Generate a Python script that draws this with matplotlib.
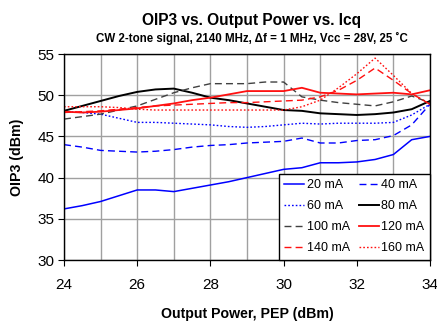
import matplotlib
matplotlib.use('Agg')
import matplotlib.pyplot as plt

plt.rcParams['font.family'] = ['Liberation Sans', 'DejaVu Sans']

pout = [24, 24.5, 25, 25.5, 26, 26.5, 27, 27.5, 28, 28.5, 29,
        29.5, 30, 30.5, 31, 31.5, 32, 32.5, 33, 33.5, 34]

oip3_20 = [36.2, 36.6, 37.1, 37.8, 38.5, 38.5, 38.3, 38.7, 39.1, 39.5, 40.0,
           40.5, 41.0, 41.2, 41.8, 41.8, 41.9, 42.2, 42.8, 44.6, 45.0]
oip3_40 = [44.0, 43.7, 43.3, 43.2, 43.1, 43.2, 43.4, 43.7, 43.9, 44.0, 44.2,
           44.3, 44.4, 44.8, 44.2, 44.2, 44.5, 44.6, 45.1, 46.4, 48.9]
oip3_60 = [48.0, 47.9, 47.7, 47.2, 46.7, 46.7, 46.6, 46.5, 46.4, 46.2, 46.1,
           46.2, 46.4, 46.6, 46.5, 46.6, 46.6, 46.6, 46.7, 47.6, 48.9]
oip3_80 = [48.1, 48.7, 49.3, 49.9, 50.4, 50.7, 50.8, 50.3, 49.7, 49.4, 49.0,
           48.6, 48.2, 48.1, 47.8, 47.7, 47.6, 47.7, 47.9, 48.3, 49.3]
oip3_100 = [47.1, 47.4, 47.7, 48.2, 48.7, 49.5, 50.3, 50.9, 51.4, 51.4, 51.4,
            51.6, 51.6, 49.8, 49.4, 49.1, 48.9, 48.7, 49.2, 49.9, 49.1]
oip3_120 = [48.0, 47.9, 48.0, 48.2, 48.4, 48.7, 49.0, 49.4, 49.7, 50.1, 50.5,
            50.5, 50.5, 50.9, 50.3, 50.2, 50.1, 50.2, 50.3, 50.1, 50.6]
oip3_140 = [47.9, 48.0, 48.1, 48.3, 48.5, 48.7, 48.8, 48.9, 49.0, 49.1, 49.1,
            49.2, 49.3, 49.4, 49.8, 50.6, 51.8, 53.3, 51.8, 50.2, 48.9]
oip3_160 = [48.6, 48.6, 48.6, 48.5, 48.3, 48.2, 48.2, 48.2, 48.2, 48.2, 48.2,
            48.2, 48.2, 48.6, 49.4, 50.9, 52.6, 54.5, 52.4, 50.2, 48.9]

fig = plt.figure(figsize=(4.37, 3.22), dpi=100)
ax = fig.add_axes([64 / 437, 1 - 260 / 322, 366 / 437, 206 / 322])

dash = (0, (5, 3))
dot = (0, (1.2, 1.5))
lines = {}
lines['20 mA'], = ax.plot(pout, oip3_20, color='#0000FF', lw=1.1, ls='-')
lines['40 mA'], = ax.plot(pout, oip3_40, color='#0000FF', lw=1.0, ls=dash)
lines['60 mA'], = ax.plot(pout, oip3_60, color='#0000FF', lw=1.0, ls=dot)
lines['80 mA'], = ax.plot(pout, oip3_80, color='#000000', lw=1.4, ls='-')
lines['100 mA'], = ax.plot(pout, oip3_100, color='#404040', lw=1.0, ls=dash)
lines['120 mA'], = ax.plot(pout, oip3_120, color='#FF1010', lw=1.3, ls='-')
lines['140 mA'], = ax.plot(pout, oip3_140, color='#FF1010', lw=1.0, ls=dash)
lines['160 mA'], = ax.plot(pout, oip3_160, color='#FF1010', lw=1.0, ls=dot)

ax.set_xlim(24, 34)
ax.set_ylim(30, 55)
ax.set_xticks(range(24, 35, 2))
ax.set_xticks(range(25, 34, 2), minor=True)
ax.set_yticks(range(30, 56, 5))
ax.grid(True, which='both', axis='x', color='#A0A0A0', lw=1.0)
ax.grid(True, which='major', axis='y', color='#A0A0A0', lw=1.0)
ax.set_axisbelow(True)
ax.tick_params(axis='both', which='major', labelsize=11, direction='out', length=4)
ax.tick_params(axis='x', which='major', pad=9)
ax.tick_params(axis='y', which='major', pad=3)
ax.tick_params(axis='x', which='minor', length=0)
for s in ax.spines.values():
    s.set_linewidth(1.0)

ax.set_xlabel('Output Power, PEP (dBm)', fontsize=10.2, fontweight='bold')
ax.set_ylabel('OIP3 (dBm)', fontsize=10.2, fontweight='bold')
ax.xaxis.set_label_coords(0.5, -0.23)
ax.yaxis.set_label_coords(-0.11, 0.5)

# legend is filled row-wise in the original
order = ['20 mA', '60 mA', '100 mA', '140 mA', '40 mA', '80 mA', '120 mA', '160 mA']
leg = ax.legend([lines[k] for k in order], order, ncol=2, loc='lower right',
                fontsize=9, frameon=True, fancybox=False, edgecolor='black',
                framealpha=1, borderaxespad=0.0, handlelength=1.6,
                handletextpad=0.2, columnspacing=0.7, labelspacing=0.72,
                borderpad=0.45)
leg.get_frame().set_linewidth(1.0)

fig.text(252 / 437, 1 - 20 / 322, 'OIP3 vs. Output Power vs. Icq', ha='center',
         va='center', fontsize=11.2, fontweight='bold')
fig.text(252 / 437, 1 - 38 / 322,
         'CW 2-tone signal, 2140 MHz, \u0394f = 1 MHz, Vcc = 28V, 25 \u02daC',
         ha='center', va='center', fontsize=8.3, fontweight='bold')

fig.savefig('out.png', dpi=100)
